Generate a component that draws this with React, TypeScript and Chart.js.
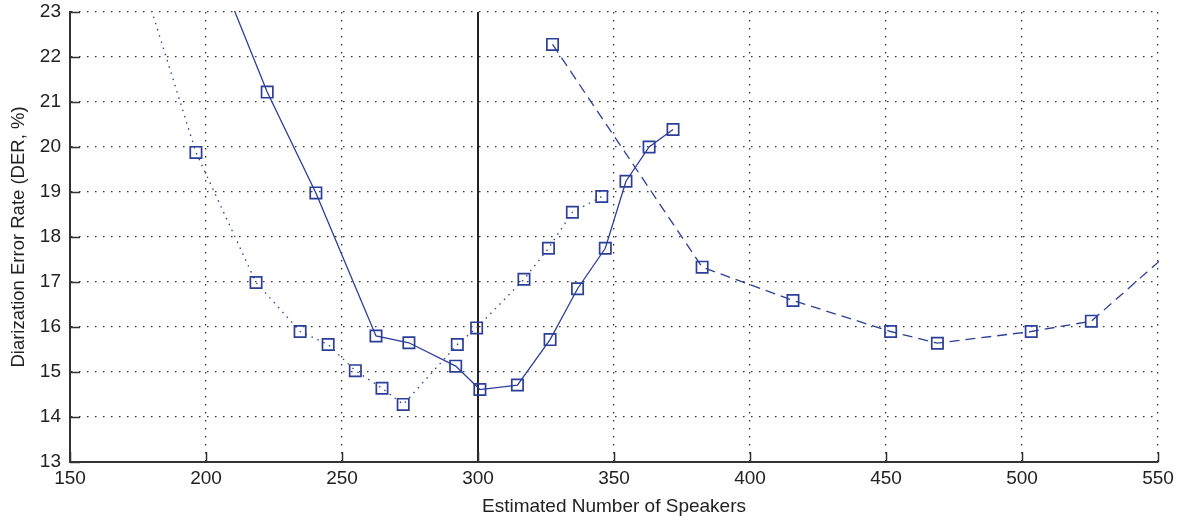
import React, { useEffect, useRef } from "react";
import { Chart, registerables } from "chart.js";

Chart.register(...registerables);

// Data (x = estimated number of speakers, y = DER %)
const dottedX = [175, 196.3, 218.4, 234.6, 244.9, 254.9, 264.7, 272.5, 292.4, 299.5, 316.9, 325.9, 334.7, 345.5];
const dottedY = [24.0, 19.88, 16.99, 15.9, 15.61, 15.03, 14.64, 14.28, 15.61, 15.98, 17.06, 17.75, 18.55, 18.9];

const solidX = [200, 222.5, 240.4, 262.5, 274.6, 291.8, 300.7, 314.5, 326.5, 336.6, 346.8, 354.4, 362.9, 371.7];
const solidY = [24.6, 21.22, 18.98, 15.8, 15.65, 15.13, 14.61, 14.71, 15.72, 16.85, 17.75, 19.24, 20.0, 20.39];

const dashedX = [327.4, 382.4, 415.8, 451.7, 468.9, 503.4, 525.5, 560];
const dashedY = [22.28, 17.33, 16.59, 15.9, 15.64, 15.9, 16.13, 17.97];

const refLineX = [300, 300];
const refLineY = [13, 23];

const X_MIN = 150;
const X_MAX = 550;
const Y_MIN = 13;
const Y_MAX = 23;

const BLUE = "#2b3f98";
const FONT = "'Liberation Sans', Arial, Helvetica, sans-serif";

const toPts = (xs: number[], ys: number[]) => xs.map((x, i) => ({ x, y: ys[i] }));

const inRange = (ctx: any) => {
  const r = ctx.raw;
  if (!r) return false;
  return r.x >= X_MIN && r.x <= X_MAX && r.y >= Y_MIN && r.y <= Y_MAX;
};

const inwardTicks = {
  id: "inwardTicks",
  afterDraw(chart: any) {
    const { ctx, chartArea, scales } = chart;
    const len = 10;
    ctx.save();
    ctx.strokeStyle = "#333";
    ctx.lineWidth = 1.5;
    ctx.beginPath();
    scales.x.ticks.forEach((t: any) => {
      const px = Math.round(scales.x.getPixelForValue(t.value)) + 0.5;
      ctx.moveTo(px, chartArea.bottom);
      ctx.lineTo(px, chartArea.bottom - len);
    });
    scales.y.ticks.forEach((t: any) => {
      const py = Math.round(scales.y.getPixelForValue(t.value)) + 0.5;
      ctx.moveTo(chartArea.left, py);
      ctx.lineTo(chartArea.left + len, py);
    });
    ctx.stroke();
    ctx.restore();
  },
};

export default function App() {
  const ref = useRef<HTMLCanvasElement | null>(null);

  useEffect(() => {
    if (!ref.current) return;
    const markerDs = (label: string, xs: number[], ys: number[], dash: number[]) => ({
      label,
      data: toPts(xs, ys),
      borderColor: BLUE,
      backgroundColor: "rgba(0,0,0,0)",
      borderWidth: 1.3,
      borderDash: dash,
      pointStyle: "rect",
      pointRadius: (c: any) => (inRange(c) ? 8 : 0),
      pointBorderWidth: 1.7,
      pointBorderColor: BLUE,
      pointBackgroundColor: "rgba(0,0,0,0)",
      tension: 0,
      clip: 1,
    });

    const chart = new Chart(ref.current, {
      type: "line",
      data: {
        datasets: [
          markerDs("dotted", dottedX, dottedY, [1.5, 5]),
          markerDs("solid", solidX, solidY, []),
          markerDs("dashed", dashedX, dashedY, [10, 6]),
          {
            label: "ref",
            data: toPts(refLineX, refLineY),
            borderColor: "#222",
            borderWidth: 2,
            pointRadius: 0,
            clip: 1,
          } as any,
        ],
      },
      options: {
        animation: false,
        responsive: true,
        maintainAspectRatio: false,
        layout: { padding: { top: 12, right: 20, left: 0, bottom: 0 } },
        plugins: {
          legend: { display: false },
          tooltip: { enabled: false },
        },
        scales: {
          x: {
            type: "linear",
            min: X_MIN,
            max: X_MAX,
            afterFit: (s: any) => {
              s.height = 63;
              s.paddingLeft = 0;
              s.paddingRight = 0;
            },
            ticks: {
              stepSize: 50,
              padding: 5,
              color: "#222",
              font: { family: FONT, size: 19, lineHeight: 1.2 },
              maxRotation: 0,
            },
            grid: {
              color: "#333",
              lineWidth: 1.3,
              drawTicks: false,
            },
            border: { display: true, color: "#333", width: 2, dash: [1.5, 6.5] },
            title: {
              display: true,
              text: "Estimated Number of Speakers",
              color: "#222",
              font: { family: FONT, size: 19, lineHeight: 1.2 },
              padding: { top: 0, bottom: 7 },
            },
          },
          y: {
            type: "linear",
            min: Y_MIN,
            max: Y_MAX,
            afterFit: (s: any) => {
              s.width = 70;
              s.paddingTop = 0;
              s.paddingBottom = 0;
            },
            ticks: {
              stepSize: 1,
              padding: 9,
              color: "#222",
              font: { family: FONT, size: 19, lineHeight: 1.2 },
            },
            grid: {
              color: "#333",
              lineWidth: 1.3,
              drawTicks: false,
            },
            border: { display: true, color: "#333", width: 2, dash: [1.5, 6.5] },
            title: {
              display: true,
              text: "Diarization Error Rate (DER, %)",
              color: "#222",
              font: { family: FONT, size: 18.5, lineHeight: 1.2 },
              padding: { top: 7.5, bottom: 0 },
            },
          },
        },
      },
      plugins: [inwardTicks],
    } as any);
    return () => chart.destroy();
  }, []);

  return (
    <div style={{ position: "fixed", left: 0, top: 0, width: 1178, height: 525, background: "#fff" }}>
      <canvas ref={ref} />
    </div>
  );
}
